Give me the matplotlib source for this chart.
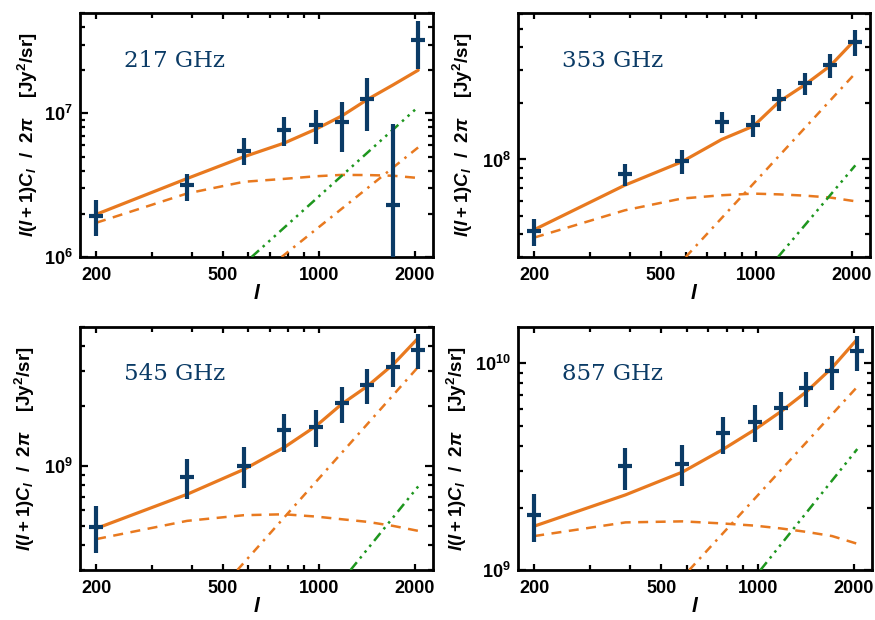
import matplotlib
matplotlib.use('Agg')
import matplotlib.pyplot as plt
from matplotlib.ticker import FixedLocator, NullFormatter, LogLocator, FuncFormatter
import numpy as np

plt.rcParams['font.family'] = ['Liberation Sans', 'DejaVu Sans']
plt.rcParams['mathtext.fontset'] = 'custom'
plt.rcParams['mathtext.rm'] = 'Liberation Sans:bold'
plt.rcParams['mathtext.bf'] = 'Liberation Sans:bold'
plt.rcParams['mathtext.it'] = 'Liberation Sans:bold:italic'

navy = '#0b3b66'
orange = '#e8791f'
green = '#1e961e'

# multipole bins
ell = [200, 386, 582, 778, 980, 1180, 1420, 1710, 2050]

# 217 GHz
y217 = [1.92e6, 3.16e6, 5.46e6, 7.65e6, 8.3e6, 8.65e6, 1.26e7, 2.29e6, 3.25e7]
hi217 = [2.49e6, 3.81e6, 6.7e6, 9.5e6, 1.05e7, 1.2e7, 1.77e7, 8.5e6, 4.4e7]
lo217 = [1.39e6, 2.44e6, 4.36e6, 5.95e6, 6.08e6, 5.4e6, 7.57e6, 5e5, 2.03e7]
tot217 = [1.98e6, 3.52e6, 4.99e6, 6.21e6, 7.78e6, 9.6e6, 1.25e7, 1.58e7, 2.0e7]
clus217 = [1.73e6, 2.77e6, 3.34e6, 3.5e6, 3.65e6, 3.73e6, 3.72e6, 3.68e6, 3.55e6]
dd_ell217 = [764, 2050]
dd217 = [1.0e6, 5.8e6]
gr_ell217 = [615, 2050]
gr217 = [1.0e6, 1.11e7]

# 353 GHz
y353 = [4.12e7, 8.34e7, 9.84e7, 1.59e8, 1.53e8, 2.10e8, 2.56e8, 3.21e8, 4.29e8]
hi353 = [4.82e7, 9.5e7, 1.12e8, 1.80e8, 1.73e8, 2.38e8, 2.92e8, 3.67e8, 4.96e8]
lo353 = [3.42e7, 7.22e7, 8.4e7, 1.38e8, 1.32e8, 1.83e8, 2.22e8, 2.73e8, 3.59e8]
tot353 = [4.2e7, 7.28e7, 9.7e7, 1.28e8, 1.51e8, 2.04e8, 2.51e8, 3.18e8, 4.4e8]
clus353 = [3.81e7, 5.34e7, 6.17e7, 6.43e7, 6.56e7, 6.5e7, 6.4e7, 6.25e7, 5.97e7]
dd_ell353 = [600, 2050]
dd353 = [3.0e7, 2.9e8]
gr_ell353 = [1171, 2050]
gr353 = [3.0e7, 9.3e7]

# 545 GHz
y545 = [4.96e8, 8.84e8, 1.0e9, 1.51e9, 1.57e9, 2.08e9, 2.54e9, 3.15e9, 3.85e9]
hi545 = [6.3e8, 1.09e9, 1.24e9, 1.82e9, 1.91e9, 2.5e9, 3.08e9, 3.73e9, 4.63e9]
lo545 = [3.67e8, 6.81e8, 7.78e8, 1.18e9, 1.25e9, 1.64e9, 2.04e9, 2.5e9, 3.09e9]
tot545 = [4.85e8, 7.21e8, 9.62e8, 1.24e9, 1.59e9, 2.05e9, 2.52e9, 3.24e9, 4.4e9]
clus545 = [4.29e8, 5.3e8, 5.66e8, 5.72e8, 5.57e8, 5.4e8, 5.24e8, 5.0e8, 4.72e8]
dd_ell545 = [555, 2050]
dd545 = [3.0e8, 3.15e9]
gr_ell545 = [1257, 2050]
gr545 = [3.0e8, 7.9e8]

# 857 GHz
y857 = [1.84e9, 3.17e9, 3.26e9, 4.6e9, 5.22e9, 6.05e9, 7.64e9, 9.19e9, 1.15e10]
hi857 = [2.32e9, 3.88e9, 4.03e9, 5.53e9, 6.28e9, 7.28e9, 9.12e9, 1.08e10, 1.35e10]
lo857 = [1.36e9, 2.45e9, 2.55e9, 3.65e9, 4.15e9, 4.78e9, 6.16e9, 7.41e9, 9.19e9]
tot857 = [1.63e9, 2.31e9, 2.98e9, 3.83e9, 4.78e9, 5.83e9, 7.28e9, 9.53e9, 1.31e10]
clus857 = [1.46e9, 1.7e9, 1.72e9, 1.68e9, 1.64e9, 1.59e9, 1.53e9, 1.46e9, 1.34e9]
dd_ell857 = [611, 2050]
dd857 = [1.0e9, 7.7e9]
gr_ell857 = [1021, 2050]
gr857 = [1.0e9, 3.85e9]

panels = [
    ('217 GHz', y217, hi217, lo217, tot217, clus217, dd_ell217, dd217, gr_ell217, gr217, (1e6, 5e7)),
    ('353 GHz', y353, hi353, lo353, tot353, clus353, dd_ell353, dd353, gr_ell353, gr353, (3e7, 6.1e8)),
    ('545 GHz', y545, hi545, lo545, tot545, clus545, dd_ell545, dd545, gr_ell545, gr545, (3e8, 5e9)),
    ('857 GHz', y857, hi857, lo857, tot857, clus857, dd_ell857, dd857, gr_ell857, gr857, (1e9, 1.5e10)),
]

# axes rectangles in figure fraction and ylabel offsets
rects = [(0.0914, 0.5855, 0.4034, 0.3935), (0.592, 0.5855, 0.4023, 0.3935),
         (0.0914, 0.0806, 0.4034, 0.392), (0.592, 0.0806, 0.4046, 0.392)]
ylab_x = [-0.114, -0.122, -0.122, -0.138]


def decade_fmt(v, pos):
    e = int(round(np.log10(v)))
    return r'$\mathbf{10^{%d}}$' % e


fig = plt.figure(figsize=(8.75, 6.2), dpi=100)
for (name, y, hi, lo, tot, clus, dd_l, dd, gr_l, gr, ylim), rect, lx in zip(panels, rects, ylab_x):
    ax = fig.add_axes(rect)
    ax.set_xscale('log')
    ax.set_yscale('log')
    y = np.array(y); hi = np.array(hi); lo = np.array(lo)

    ax.plot(ell, tot, color=orange, lw=2.3, solid_capstyle='round', zorder=3)
    ax.plot(ell, clus, color=orange, lw=1.8, ls=(0, (4, 3)), zorder=3)
    ax.plot(dd_l, dd, color=orange, lw=1.8, ls=(0, (3.5, 2.5, 1, 2.5)), zorder=3)
    ax.plot(gr_l, gr, color=green, lw=1.8, ls=(0, (4, 2, 1, 2, 1, 2, 1, 2)), zorder=3)

    ax.errorbar(ell, y, yerr=[y - lo, hi - y], fmt='none', ecolor=navy,
                elinewidth=3, capsize=0, zorder=4)
    ax.plot(ell, y, ls='none', marker='_', ms=10, mew=3, color=navy, zorder=4)

    ax.set_xlim(178, 2280)
    ax.set_ylim(*ylim)

    ax.xaxis.set_major_locator(FixedLocator([200, 500, 1000, 2000]))
    ax.xaxis.set_minor_locator(FixedLocator([300, 400, 600, 700, 800, 900]))
    ax.xaxis.set_major_formatter(FuncFormatter(lambda v, p: '%d' % v))
    ax.xaxis.set_minor_formatter(NullFormatter())
    ax.yaxis.set_major_locator(LogLocator(base=10, numticks=10))
    ax.yaxis.set_minor_locator(LogLocator(base=10, subs=np.arange(2, 10), numticks=10))
    ax.yaxis.set_major_formatter(FuncFormatter(decade_fmt))
    ax.yaxis.set_minor_formatter(NullFormatter())

    ax.tick_params(which='both', direction='in', top=True, right=True, width=1.6)
    ax.tick_params(which='major', length=6)
    ax.tick_params(which='minor', length=3.5)
    ax.tick_params(axis='x', which='major', length=4.5)
    ax.tick_params(axis='x', labelsize=13, pad=7)
    ax.tick_params(axis='y', labelsize=13, pad=5)
    for lab in ax.get_xticklabels():
        lab.set_fontweight('bold')
    for sp in ax.spines.values():
        sp.set_linewidth(2)

    ax.set_xlabel('l', fontsize=15, fontweight='bold', style='italic')
    ax.xaxis.set_label_coords(0.5, -0.11)
    ax.set_ylabel(r'$l(l+1)C_l$  /  2$\pi$    [Jy$^2$/sr]', fontsize=13.5, fontweight='bold')
    ax.yaxis.set_label_coords(lx, 0.5)

    ax.text(0.125, 0.805, name, transform=ax.transAxes, fontsize=16.5,
            family='DejaVu Serif', color=navy, va='center', ha='left')

fig.savefig('out.png', dpi=100)
